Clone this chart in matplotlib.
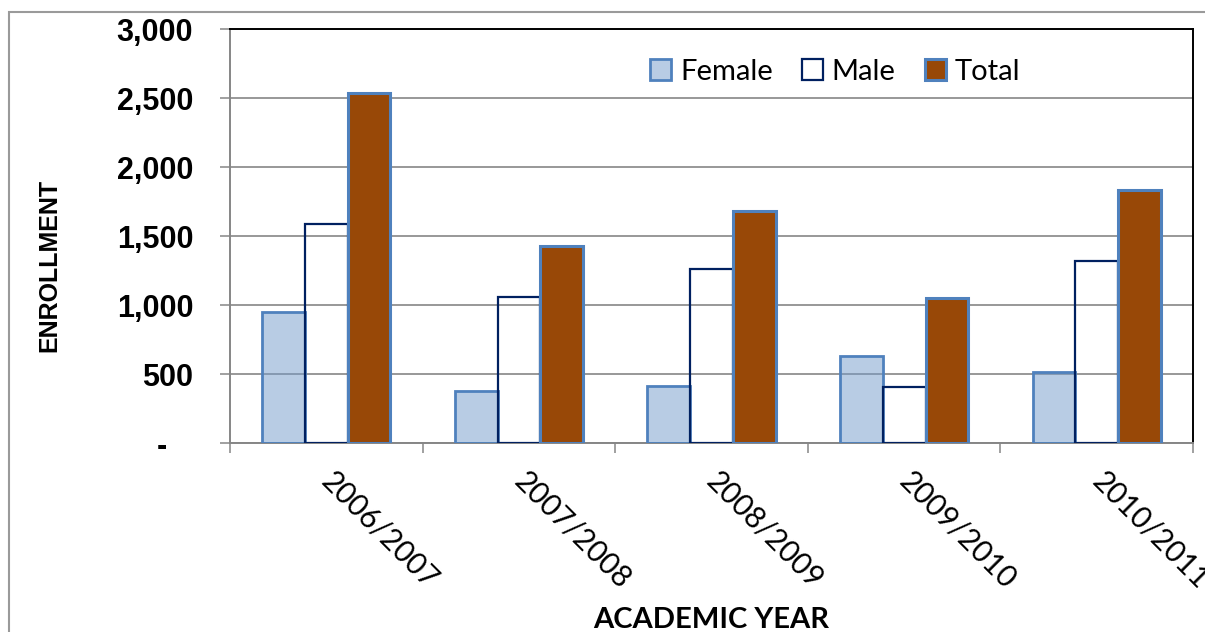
import numpy as np
import matplotlib.pyplot as plt
from matplotlib.patches import Rectangle
from matplotlib.ticker import FixedLocator

# enrollment per academic year
years = ['2006/2007', '2007/2008', '2008/2009', '2009/2010', '2010/2011']
female = [950, 377, 418, 636, 520]
male = [1590, 1062, 1266, 410, 1324]
total = [2536, 1432, 1680, 1050, 1838]

y_ticks = [0, 500, 1000, 1500, 2000, 2500, 3000]
y_tick_labels = ['-   ', '500', '1,000', '1,500', '2,000', '2,500', '3,000']

BLUE_EDGE = '#4F81BD'
NAVY_EDGE = '#002060'
BROWN = '#984807'
GRID = '#868686'

fig = plt.figure(figsize=(12.05, 6.32), dpi=100)
fig.patch.set_facecolor('white')

# chart frame (runs off the right and bottom)
fig.patches.append(Rectangle((9 / 1205, -0.1), 1.2, 1 - 12 / 632 + 0.1,
                             transform=fig.transFigure, fill=False,
                             edgecolor='#9A9A9A', linewidth=1.5))

ax = fig.add_axes([230 / 1205, 1 - 443.3 / 632, 963 / 1205, 414 / 632])

x = np.arange(len(years))
w = 1 / 4.5

ax.bar(x - w, female, w, facecolor=(0.451, 0.608, 0.796, 0.5),
       edgecolor=BLUE_EDGE, linewidth=2.0, label='Female', zorder=3)
ax.bar(x, male, w, facecolor='none', edgecolor=NAVY_EDGE,
       linewidth=1.6, label='Male', zorder=3)
ax.bar(x + w, total, w, facecolor=BROWN, edgecolor=BLUE_EDGE,
       linewidth=2.2, label='Total', zorder=3)

ax.set_xlim(-0.5, len(years) - 0.5)
ax.set_ylim(0, 3000)

ax.set_yticks(y_ticks)
ax.set_yticklabels(y_tick_labels, family='Liberation Sans',
                   fontweight='bold', fontsize=22)
ax.tick_params(axis='y', length=7.5, width=1.1, color=GRID, pad=19)
ax.yaxis.grid(True, color=GRID, linewidth=1.2)
ax.set_axisbelow(True)

# category labels at centres, boundary ticks between them
ax.set_xticks(x)
ax.set_xticklabels(years, family='Lato', fontsize=21.5)
ax.xaxis.set_minor_locator(FixedLocator(np.arange(-0.5, len(years), 1.0)))
ax.tick_params(axis='x', which='major', length=0, pad=24)
ax.tick_params(axis='x', which='minor', length=7.5, width=1.1, color=GRID)
for lbl in ax.get_xticklabels():
    lbl.set_rotation(-45)
    lbl.set_rotation_mode('anchor')
    lbl.set_ha('left')
    lbl.set_va('center')

for side in ('left', 'bottom'):
    ax.spines[side].set_color(GRID)
    ax.spines[side].set_linewidth(1.4)
for side in ('top', 'right'):
    ax.spines[side].set_color('black')
    ax.spines[side].set_linewidth(1.4)

fig.text(49 / 1205, 1 - 265 / 632, 'ENROLLMENT', rotation=90,
         family='Liberation Sans', fontweight='bold', fontsize=18,
         ha='center', va='center')
fig.text(711 / 1205, 1 - 628 / 632, 'ACADEMIC YEAR', family='Lato',
         fontweight='bold', fontsize=21, ha='center', va='baseline')

ax.legend(loc='center', bbox_to_anchor=((835 - 230) / 963, (443.3 - 72) / 414),
          ncol=3, frameon=False, prop={'family': 'Lato', 'size': 21},
          handlelength=0.72, handleheight=0.72, handletextpad=0.3,
          columnspacing=1.0, borderpad=0)

fig.savefig('out.png', dpi=100)
